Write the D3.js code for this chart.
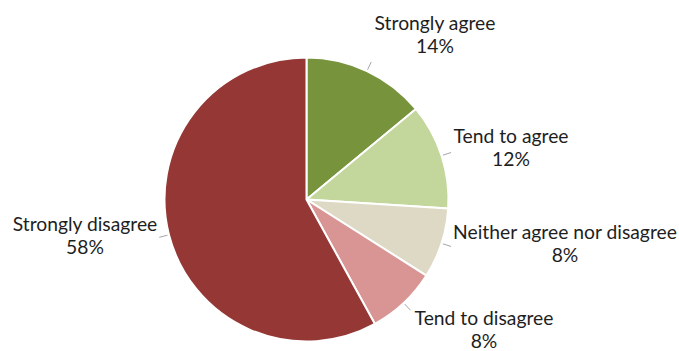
<!DOCTYPE html>
<html>
<head>
<meta charset="utf-8">
<script src="https://cdn.jsdelivr.net/npm/d3@7"></script>
<style>
  html, body { margin: 0; padding: 0; background: #fff; }
  svg { display: block; }
</style>
</head>
<body>
<div id="chart"></div>
<script>
// survey response shares, clockwise from 12 o'clock
const categories = ['Strongly agree', 'Tend to agree', 'Neither agree nor disagree', 'Tend to disagree', 'Strongly disagree'];
const values     = [14, 12, 8, 8, 58];
const colors     = ['#77933c', '#c3d69b', '#ddd9c4', '#d99594', '#953735'];

// where each label sits: text centre x, first baseline y
const labelPos = [[435, 30], [511, 143], [565, 239], [484, 325], [85, 231]];

const W = 679, H = 351;
const cx = 306.5, cy = 199.5, radius = 142;

const svg = d3.select('#chart')
  .append('svg')
  .attr('width', W)
  .attr('height', H);

const g = svg.append('g')
  .attr('transform', `translate(${cx},${cy})`);

const pie = d3.pie().sort(null).value(d => d.value);
const arc = d3.arc().innerRadius(0).outerRadius(radius);

const data = categories.map((c, i) => ({ label: c, value: values[i], color: colors[i] }));
const arcs = pie(data);

g.selectAll('path.slice')
  .data(arcs)
  .join('path')
  .attr('class', 'slice')
  .attr('d', arc)
  .attr('fill', d => d.data.color)
  .attr('stroke', '#fff')
  .attr('stroke-width', 2)
  .attr('stroke-linejoin', 'round');

// short leader ticks just outside the rim
g.selectAll('line.leader')
  .data(arcs)
  .join('line')
  .attr('class', 'leader')
  .each(function(d) {
    const mid = (d.startAngle + d.endAngle) / 2;
    const [x1, y1] = d3.pointRadial(mid, radius + 1.5);
    const [x2, y2] = d3.pointRadial(mid, radius + 10);
    d3.select(this).attr('x1', x1).attr('y1', y1).attr('x2', x2).attr('y2', y2);
  })
  .attr('stroke', '#a6a6a6')
  .attr('stroke-width', 1);

const labels = svg.selectAll('text.lbl')
  .data(arcs)
  .join('text')
  .attr('class', 'lbl')
  .attr('text-anchor', 'middle')
  .attr('font-family', 'Lato, sans-serif')
  .attr('font-size', 19.3)
  .attr('fill', '#1e1e1e');

labels.append('tspan')
  .attr('x', (d, i) => labelPos[i][0])
  .attr('y', (d, i) => labelPos[i][1])
  .text(d => d.data.label);

labels.append('tspan')
  .attr('x', (d, i) => labelPos[i][0])
  .attr('y', (d, i) => labelPos[i][1] + 22.5)
  .text(d => d.data.value + '%');
</script>
</body>
</html>
